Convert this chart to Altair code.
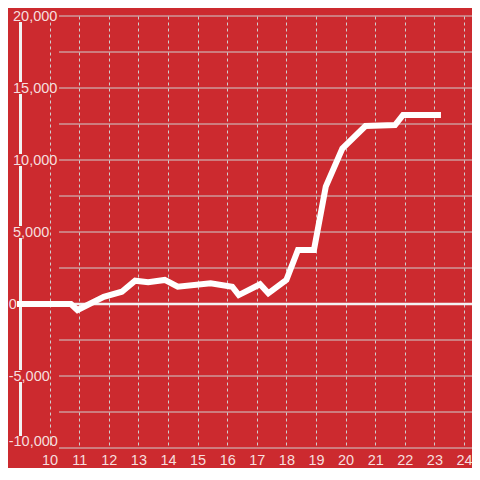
import altair as alt
import pandas as pd

# ---- data ----
hours = [9.0, 10.72, 10.94, 11.83, 12.44, 12.89, 13.33, 13.89, 14.33, 15.44, 16.17,
         16.39, 17.11, 17.39, 18.0, 18.39, 18.93, 19.33, 19.89, 20.67, 21.67, 21.94, 23.12]
values = [0, 0, -420, 500, 850, 1620, 1510, 1670, 1200, 1440, 1200,
          620, 1370, 740, 1670, 3750, 3750, 8150, 10800, 12360, 12430, 13130, 13130]

grid_values = [-10000, -7500, -5000, -2500, 0, 2500, 5000, 7500, 10000,
               12500, 15000, 17500, 20000]
label_values = [-10000, -5000, 0, 5000, 10000, 15000, 20000]
label_texts = ["-10,000", "-5,000", "0", "5,000", "10,000", "15,000", "20,000"]
x_ticks = list(range(10, 25))

RED = "#cc2a2f"
GRID = "#cfcfcf"
TXT = "#f6dede"
W, H = 452, 432
FONT = "Liberation Sans"

line_df = pd.DataFrame({"hour": hours, "value": values})
grid_df = pd.DataFrame({"g": grid_values})
lab_df = pd.DataFrame({"v": label_values, "t": label_texts})
zero_df = pd.DataFrame({"z": [0]})
bar_df = pd.DataFrame({"a": [-10000], "b": [20000]})

xs = alt.Scale(domain=[9, 24.27], nice=False, zero=False)
ys = alt.Scale(domain=[-10000, 20000], nice=False, zero=False)

hgrid = alt.Chart(grid_df).mark_rule(color=GRID, strokeWidth=1).encode(
    y=alt.Y("g:Q", scale=ys, axis=None),
    x=alt.value(39), x2=alt.value(W),
)

zero = alt.Chart(zero_df).mark_rule(color="#f2f2f2", strokeWidth=2.5).encode(
    y=alt.Y("z:Q", scale=ys, axis=None),
    x=alt.value(0), x2=alt.value(W),
)

bar = alt.Chart(bar_df).mark_rule(color="#f2f2f2", strokeWidth=3).encode(
    y=alt.Y("a:Q", scale=ys, axis=None),
    y2="b:Q",
    x=alt.value(0.5),
)

# red boxes behind labels that cross the vertical bar
lab_bg = alt.Chart(lab_df).transform_filter("datum.v != 0 && datum.v != -10000").mark_rule(
    color=RED, strokeWidth=12
).encode(
    y=alt.Y("v:Q", scale=ys, axis=None),
    x=alt.value(-3), x2=alt.value(4),
)
lab_bg_bottom = alt.Chart(lab_df).transform_filter("datum.v == -10000").mark_rule(
    color=RED, strokeWidth=12, yOffset=-6
).encode(
    y=alt.Y("v:Q", scale=ys, axis=None),
    x=alt.value(-3), x2=alt.value(4),
)

def labels(flt, xpos, dy):
    return alt.Chart(lab_df).transform_filter(flt).mark_text(
        align="left", baseline="middle", font=FONT, fontSize=14.5, color=TXT, dy=dy
    ).encode(
        y=alt.Y("v:Q", scale=ys, axis=None),
        x=alt.value(xpos),
        text="t:N",
    )

lab_pos = labels("datum.v > 0", -7, 1)
lab_neg = labels("datum.v <= 0 && datum.v > -10000", -11.3, 1)
lab_bot = labels("datum.v == -10000", -11.3, -6)

line = alt.Chart(line_df).mark_line(
    color="#ffffff", strokeWidth=6, strokeCap="square", strokeJoin="miter"
).encode(
    x=alt.X(
        "hour:Q", scale=xs,
        axis=alt.Axis(
            values=x_ticks, title=None, grid=True, gridDash=[3, 3], gridColor=GRID,
            gridWidth=1, domain=False, ticks=False, tickSize=0, labelPadding=5,
            labelFont=FONT, labelFontSize=14.5, labelColor=TXT, labelFlush=False,
        ),
    ),
    y=alt.Y("value:Q", scale=ys, axis=None),
)

chart = alt.layer(hgrid, zero, bar, lab_bg, lab_bg_bottom, lab_pos, lab_neg, lab_bot, line).properties(
    width=W, height=H,
    autosize=alt.AutoSizeParams(type="none"),
    padding={"left": 12, "top": 8, "right": 0, "bottom": 20},
    background=RED,
).configure_view(stroke=None)

chart.save("out.html", embed_options={"renderer": "svg", "actions": False})
